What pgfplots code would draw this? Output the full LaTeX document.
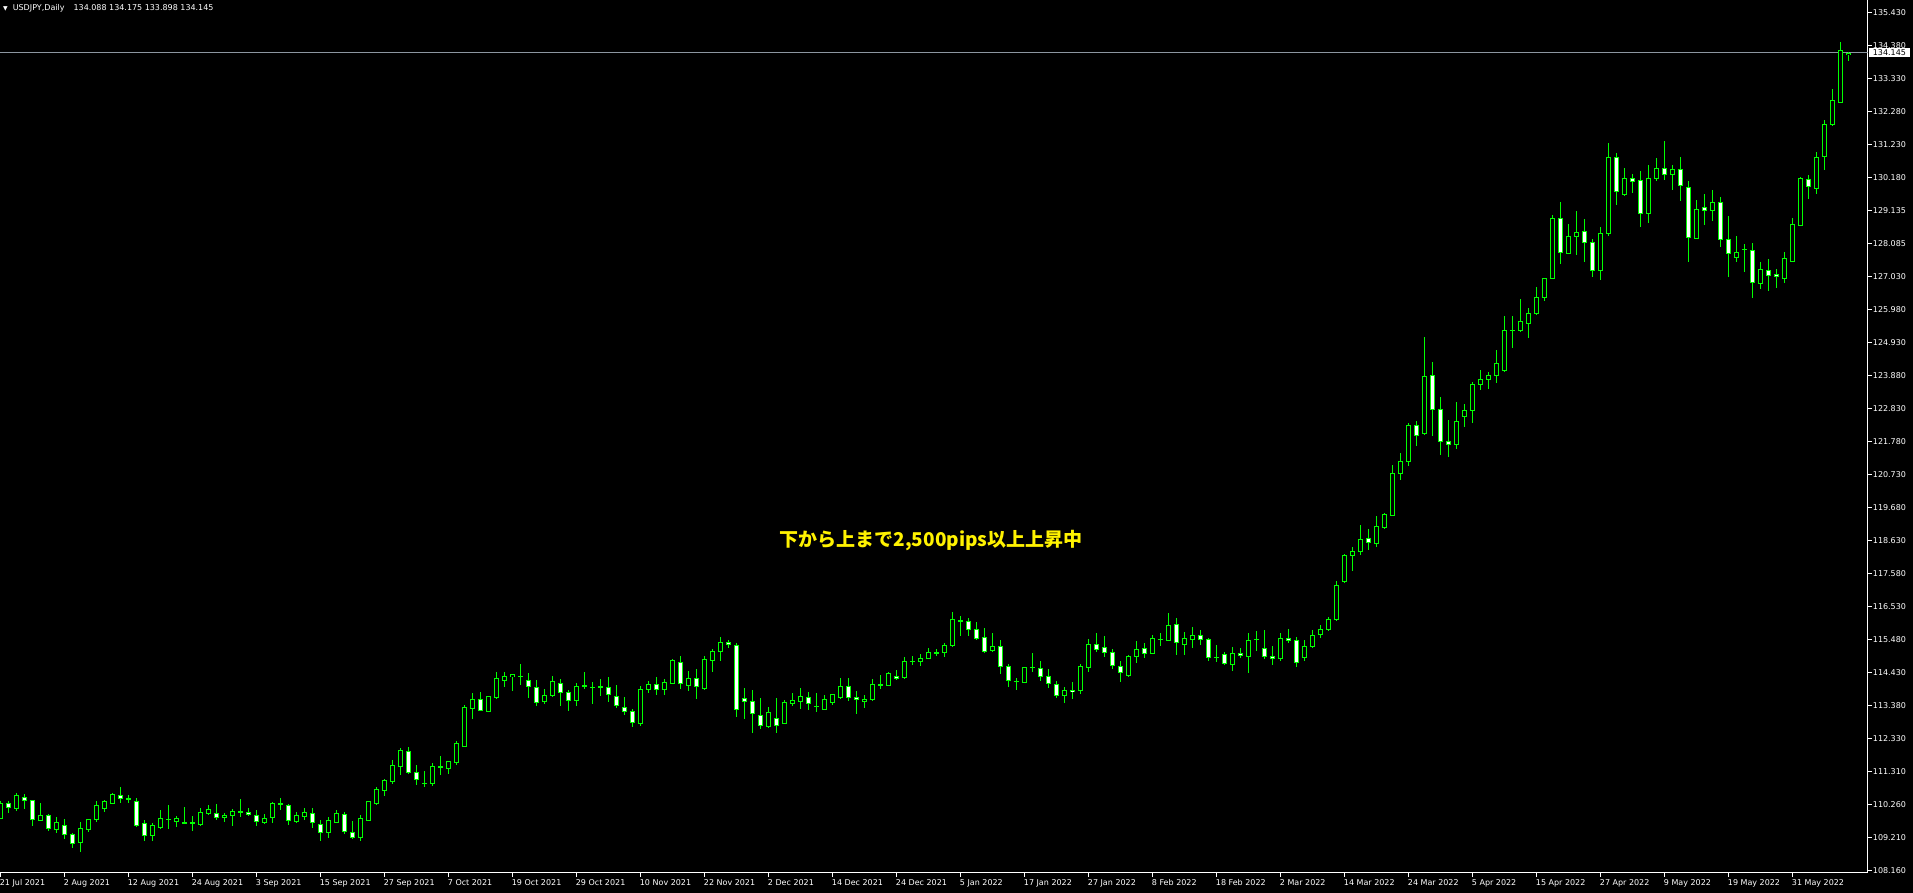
\documentclass[border=0pt]{standalone}
\usepackage{pgfplots}
\pgfplotsset{compat=1.18}
\usepackage{pgfplotstable}
\usepackage{fontspec}
\setmainfont{DejaVu Sans}
\newfontfamily\cjk{Noto Sans CJK JP}
\definecolor{mtgreen}{RGB}{0,255,0}
\definecolor{bidgray}{RGB}{140,150,160}
\pgfplotstableread{
i o h l c
0 109.80 110.36 109.79 110.27
1 110.26 110.35 109.98 110.15
2 110.10 110.60 110.04 110.53
3 110.46 110.56 110.10 110.36
4 110.37 110.38 109.56 109.77
5 109.73 110.28 109.71 109.89
6 109.89 109.94 109.41 109.48
7 109.44 109.83 109.34 109.67
8 109.57 109.78 109.15 109.29
9 109.29 109.34 108.86 109.00
10 109.02 109.68 108.72 109.48
11 109.45 109.79 109.37 109.77
12 109.75 110.35 109.69 110.21
13 110.10 110.37 110.01 110.32
14 110.27 110.60 110.27 110.56
15 110.53 110.80 110.28 110.43
16 110.41 110.54 110.28 110.42
17 110.32 110.43 109.53 109.56
18 109.64 109.73 109.09 109.26
19 109.24 109.66 109.09 109.58
20 109.52 110.06 109.47 109.78
21 109.76 110.22 109.47 109.77
22 109.69 109.86 109.53 109.78
23 109.66 110.15 109.62 109.66
24 109.65 109.86 109.40 109.65
25 109.60 110.12 109.56 109.97
26 109.94 110.22 109.90 110.09
27 109.96 110.25 109.74 109.82
28 109.82 109.96 109.69 109.90
29 109.89 110.08 109.56 110.00
30 110.00 110.41 109.85 110.01
31 109.99 110.12 109.87 109.92
32 109.89 110.06 109.56 109.70
33 109.67 109.92 109.62 109.80
34 109.82 110.33 109.66 110.27
35 110.26 110.43 110.06 110.25
36 110.21 110.26 109.58 109.73
37 109.69 109.99 109.66 109.88
38 109.85 110.14 109.75 109.98
39 109.95 110.14 109.50 109.67
40 109.60 109.73 109.09 109.35
41 109.34 109.83 109.18 109.73
42 109.66 110.06 109.66 109.96
43 109.92 110.01 109.31 109.37
44 109.35 109.70 109.15 109.18
45 109.18 109.89 109.09 109.80
46 109.72 110.34 109.72 110.32
47 110.26 110.78 110.22 110.72
48 110.68 111.05 110.52 111.01
49 110.96 111.64 110.90 111.48
50 111.45 112.03 111.19 111.96
51 111.92 112.06 111.22 111.25
52 111.26 111.49 110.87 111.04
53 110.91 111.30 110.80 110.91
54 110.90 111.55 110.84 111.45
55 111.44 111.78 111.18 111.44
56 111.39 111.63 111.22 111.61
57 111.58 112.25 111.48 112.18
58 112.08 113.40 112.08 113.33
59 113.30 113.79 112.97 113.58
60 113.58 113.81 113.23 113.23
61 113.21 113.70 113.18 113.68
62 113.64 114.45 113.60 114.25
63 114.18 114.45 113.98 114.32
64 114.30 114.38 113.86 114.38
65 114.32 114.71 114.03 114.31
66 114.19 114.42 113.63 114.00
67 113.97 114.20 113.37 113.48
68 113.51 113.91 113.44 113.71
69 113.70 114.33 113.66 114.16
70 114.09 114.23 113.37 113.80
71 113.81 113.88 113.22 113.54
72 113.54 114.09 113.37 114.00
73 114.01 114.45 113.92 114.00
74 113.97 114.14 113.44 113.96
75 113.99 114.23 113.69 113.99
76 113.97 114.29 113.49 113.73
77 113.68 114.04 113.30 113.39
78 113.33 113.66 113.07 113.20
79 113.20 113.29 112.71 112.85
80 112.81 114.01 112.75 113.90
81 113.90 114.17 113.80 114.06
82 114.06 114.29 113.73 113.90
83 113.90 114.23 113.73 114.12
84 114.08 114.86 114.08 114.82
85 114.76 114.96 113.92 114.08
86 114.01 114.48 113.86 114.26
87 114.25 114.54 113.58 113.99
88 113.92 114.97 113.88 114.86
89 114.83 115.20 114.45 115.12
90 115.10 115.55 114.81 115.40
91 115.40 115.46 115.23 115.33
92 115.30 115.38 113.03 113.27
93 113.61 113.94 112.96 113.52
94 113.52 113.88 112.52 113.14
95 113.07 113.63 112.64 112.75
96 112.71 113.34 112.68 113.17
97 112.98 113.63 112.52 112.75
98 112.81 113.55 112.81 113.49
99 113.44 113.78 113.37 113.55
100 113.51 113.94 113.28 113.68
101 113.65 113.81 113.24 113.46
102 113.37 113.77 113.19 113.37
103 113.27 113.72 113.27 113.58
104 113.49 113.74 113.41 113.74
105 113.64 114.26 113.59 114.00
106 114.00 114.26 113.54 113.65
107 113.65 113.85 113.12 113.58
108 113.51 113.72 113.32 113.59
109 113.58 114.23 113.54 114.07
110 114.05 114.36 113.92 114.05
111 114.02 114.44 114.02 114.39
112 114.32 114.52 114.20 114.24
113 114.27 114.92 114.22 114.80
114 114.79 114.96 114.69 114.79
115 114.78 115.03 114.64 114.89
116 114.87 115.22 114.86 115.06
117 115.06 115.19 114.96 115.06
118 115.07 115.37 114.94 115.29
119 115.29 116.35 115.26 116.13
120 116.09 116.23 115.61 116.09
121 116.07 116.16 115.61 115.81
122 115.80 116.03 115.47 115.51
123 115.56 115.84 115.05 115.11
124 115.13 115.69 115.10 115.27
125 115.26 115.47 114.38 114.63
126 114.63 114.70 113.99 114.17
127 114.15 114.25 113.88 114.15
128 114.13 114.62 114.09 114.60
129 114.60 115.06 114.44 114.60
130 114.56 114.80 114.18 114.32
131 114.31 114.54 113.96 114.09
132 114.06 114.17 113.62 113.72
133 113.70 113.99 113.47 113.86
134 113.88 114.13 113.60 113.82
135 113.85 114.70 113.76 114.63
136 114.59 115.50 114.46 115.34
137 115.33 115.69 115.10 115.18
138 115.24 115.60 114.92 115.08
139 115.08 115.18 114.56 114.67
140 114.62 114.80 114.14 114.44
141 114.34 114.98 114.31 114.95
142 114.95 115.43 114.75 115.16
143 115.20 115.37 114.91 115.05
144 115.05 115.62 115.02 115.51
145 115.50 115.68 115.29 115.50
146 115.47 116.32 115.45 115.94
147 115.97 116.16 115.00 115.39
148 115.32 115.74 115.00 115.53
149 115.48 115.88 115.23 115.62
150 115.62 115.79 115.31 115.49
151 115.49 115.53 114.81 114.92
152 114.93 115.31 114.77 114.93
153 115.02 115.10 114.69 114.73
154 114.70 115.25 114.50 115.05
155 115.05 115.21 114.91 114.98
156 114.94 115.68 114.41 115.46
157 115.49 115.76 115.12 115.49
158 115.20 115.79 114.86 114.95
159 114.95 115.27 114.68 114.89
160 114.88 115.68 114.79 115.53
161 115.53 115.81 115.37 115.45
162 115.45 115.58 114.62 114.76
163 114.91 115.46 114.81 115.26
164 115.26 115.78 115.23 115.62
165 115.64 115.94 115.55 115.80
166 115.80 116.20 115.76 116.13
167 116.11 117.34 116.06 117.21
168 117.33 118.20 117.30 118.17
169 118.17 118.44 117.68 118.29
170 118.29 119.12 118.16 118.68
171 118.71 119.01 118.34 118.58
172 118.55 119.40 118.44 119.08
173 119.04 119.50 119.01 119.47
174 119.44 121.03 119.43 120.78
175 120.78 121.41 120.56 121.15
176 121.15 122.39 121.00 122.30
177 122.30 122.43 121.65 121.97
178 122.04 125.11 121.99 123.87
179 123.87 124.32 121.97 122.81
180 122.81 123.20 121.35 121.78
181 121.80 122.46 121.30 121.68
182 121.70 123.04 121.55 122.43
183 122.58 122.98 122.26 122.78
184 122.77 123.68 122.36 123.61
185 123.60 124.05 123.44 123.77
186 123.77 123.99 123.47 123.90
187 123.88 124.69 123.66 124.27
188 124.04 125.77 123.99 125.32
189 125.32 125.77 124.75 125.32
190 125.31 126.31 125.27 125.61
191 125.55 126.02 125.07 125.87
192 125.86 126.69 125.82 126.38
193 126.36 127.00 126.25 126.98
194 126.97 128.98 126.97 128.89
195 128.89 129.41 127.45 127.81
196 127.76 128.71 127.76 128.32
197 128.32 129.12 127.72 128.44
198 128.47 128.87 127.51 128.12
199 128.12 128.23 127.02 127.23
200 127.22 128.61 126.93 128.41
201 128.39 131.29 128.33 130.83
202 130.83 130.98 129.31 129.74
203 129.66 130.49 129.60 130.16
204 130.14 130.30 129.69 130.05
205 130.10 130.39 128.62 129.04
206 129.04 130.59 128.74 130.16
207 130.15 130.81 130.09 130.48
208 130.48 131.35 130.11 130.28
209 130.28 130.59 129.79 130.45
210 130.45 130.84 129.44 129.94
211 129.87 130.08 127.50 128.28
212 128.26 129.47 128.24 129.17
213 129.24 129.65 128.68 129.13
214 129.13 129.79 128.79 129.40
215 129.40 129.57 127.99 128.22
216 128.22 128.96 127.03 127.76
217 127.64 128.33 127.51 127.81
218 127.90 128.06 127.17 127.90
219 127.87 128.09 126.36 126.85
220 126.81 127.49 126.65 127.27
221 127.22 127.58 126.56 127.07
222 127.11 127.27 126.68 127.04
223 126.97 127.81 126.84 127.62
224 127.51 128.90 127.51 128.70
225 128.65 130.20 128.65 130.16
226 130.13 130.27 129.50 129.90
227 129.83 131.00 129.67 130.83
228 130.85 132.02 130.43 131.88
229 131.87 133.00 131.84 132.64
230 132.57 134.50 132.57 134.23
231 134.088 134.175 133.898 134.145
}\candles

\begin{document}
\begin{tikzpicture}
\useasboundingbox (0,0) rectangle (1913pt,893pt);
\fill[black] (0,0) rectangle (1913pt,893pt);
\begin{axis}[
  at={(0pt,20pt)}, anchor=south west,
  scale only axis, width=1867.7pt, height=873pt,
  xmin=-0.0875, xmax=233.375, ymin=108.058, ymax=135.834,
  axis x line*=bottom, axis y line*=right,
  axis line style={white, line width=1pt, -},
  tick style={white, line width=1pt},
  tick align=outside, major tick length=4pt,
  xtick={0,8,16,24,32,40,48,56,64,72,80,88,96,104,112,120,128,136,144,152,160,168,176,184,192,200,208,216,224},
  xticklabels={21 Jul 2021,2 Aug 2021,12 Aug 2021,24 Aug 2021,3 Sep 2021,15 Sep 2021,27 Sep 2021,7 Oct 2021,19 Oct 2021,29 Oct 2021,10 Nov 2021,22 Nov 2021,2 Dec 2021,14 Dec 2021,24 Dec 2021,5 Jan 2022,17 Jan 2022,27 Jan 2022,8 Feb 2022,18 Feb 2022,2 Mar 2022,14 Mar 2022,24 Mar 2022,5 Apr 2022,15 Apr 2022,27 Apr 2022,9 May 2022,19 May 2022,31 May 2022},
  ytick={135.43,134.38,133.33,132.28,131.23,130.18,129.13,128.08,127.03,125.98,124.93,123.88,122.83,121.78,120.73,119.68,118.63,117.58,116.53,115.48,114.43,113.38,112.33,111.28,110.23,109.18,108.13},
  yticklabels={135.430,134.380,133.330,132.280,131.230,130.180,129.135,128.085,127.030,125.980,124.930,123.880,122.830,121.780,120.730,119.680,118.630,117.580,116.530,115.480,114.430,113.380,112.330,111.310,110.260,109.210,108.160},
  tick label style={white, font=\fontsize{8}{9}\selectfont},
  xticklabel style={anchor=north west, inner sep=0pt, xshift=-1pt, yshift=-2pt},
  yticklabel style={anchor=west, inner sep=0pt, xshift=1pt},
  clip=true,
]
\addplot[forget plot, bidgray, line width=1pt] coordinates {(-1,134.16) (240,134.16)};
% wicks
\addplot[forget plot, draw=none, mark=none, error bars/.cd, y dir=both, y explicit, error mark=none,
  error bar style={draw=mtgreen, line width=1pt}]
  table[x=i, y expr={(\thisrow{h}+\thisrow{l})/2}, y error expr={(\thisrow{h}-\thisrow{l})/2}] {\candles};
% body outline
\addplot[forget plot, draw=none, mark=none, error bars/.cd, y dir=both, y explicit, error mark=none,
  error bar style={draw=mtgreen, line width=5pt}]
  table[x=i, y expr={(\thisrow{o}+\thisrow{c})/2}, y error expr={abs(\thisrow{c}-\thisrow{o})/2+0.016}] {\candles};
% bearish interior (white)
\addplot[forget plot, draw=none, mark=none, error bars/.cd, y dir=both, y explicit, error mark=none,
  error bar style={draw=white, line width=3pt}]
  table[x=i, y expr={\thisrow{c}<\thisrow{o} ? (\thisrow{o}+\thisrow{c})/2 : 50},
        y error expr={\thisrow{c}<\thisrow{o} ? max((\thisrow{o}-\thisrow{c})/2-0.016,0) : 0}] {\candles};
% bullish interior (black)
\addplot[forget plot, draw=none, mark=none, error bars/.cd, y dir=both, y explicit, error mark=none,
  error bar style={draw=black, line width=3pt}]
  table[x=i, y expr={\thisrow{c}<\thisrow{o} ? 50 : (\thisrow{o}+\thisrow{c})/2},
        y error expr={\thisrow{c}<\thisrow{o} ? 0 : max((\thisrow{c}-\thisrow{o})/2-0.016,0)}] {\candles};
\coordinate (bid) at (axis cs:233.375,134.16);
\end{axis}
\node[fill=white, text=black, anchor=west, inner sep=0pt, minimum height=9pt, minimum width=41pt,
  font=\fontsize{8}{9}\selectfont] at ([xshift=1pt]bid) {134.145};
\node[anchor=west, text=white, font=\fontsize{8}{9}\selectfont, inner sep=0pt] at (3pt,885pt)
  {{\fontsize{6}{6}\selectfont ▼}\hspace{5pt}USDJPY,Daily\hspace{9pt}134.088 134.175 133.898 134.145};
\node[text=yellow, font=\cjk\bfseries\fontsize{19}{19}\selectfont, inner sep=0pt] at (931pt,352pt)
  {下から上まで2,500pips以上上昇中};
\end{tikzpicture}
\end{document}
